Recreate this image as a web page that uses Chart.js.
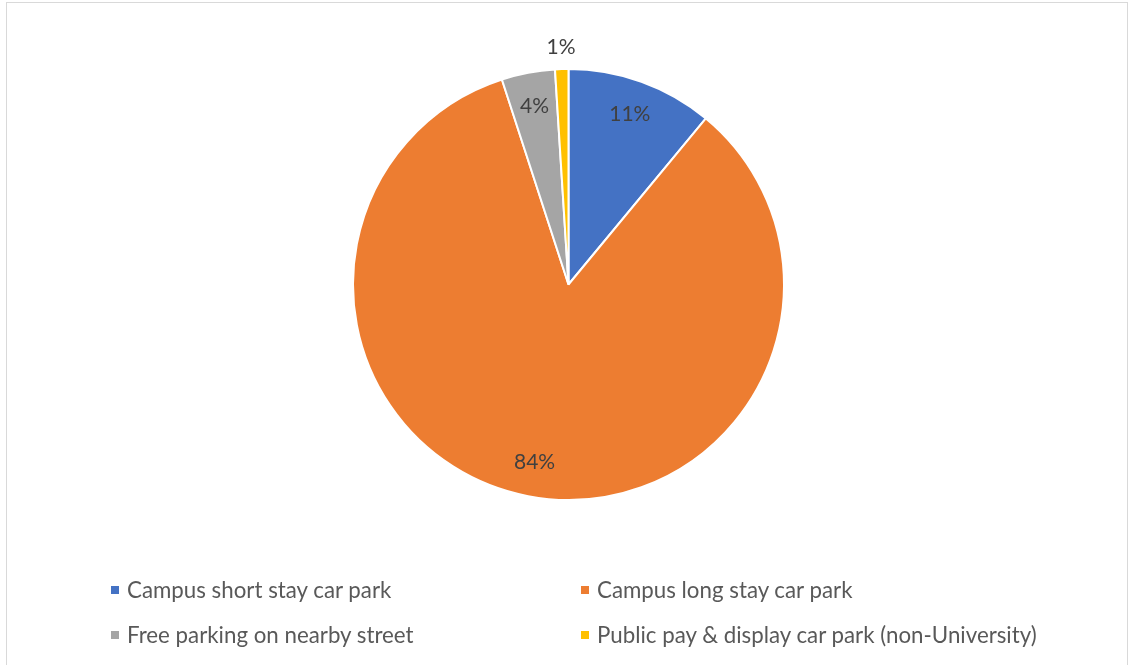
<!DOCTYPE html>
<html>
<head>
<meta charset="utf-8">
<title>Parking</title>
<script src="https://cdn.jsdelivr.net/npm/chart.js@4.4.1/dist/chart.umd.min.js"></script>
<style>
    html, body { margin: 0; padding: 0; background: #fff; }
    #frame {
        position: absolute; left: 6px; top: 2px; width: 1122px; height: 700px;
        border: 1px solid #d9d9d9; box-sizing: border-box;
    }
    #chart { position: absolute; left: 0; top: 0; }
    .legend-item {
        position: absolute; font: 22.3px Lato, sans-serif; color: #595959;
        line-height: 24px; white-space: nowrap;
    }
    .legend-item i {
        position: absolute; left: -16px; top: 8px; width: 8px; height: 8px;
    }
</style>
</head>
<body>
<div id="frame"></div>
<canvas id="chart" width="1129" height="665"></canvas>
<div id="legend"></div>

<script>
"use strict"

const places = [
    "Campus short stay car park",
    "Campus long stay car park",
    "Free parking on nearby street",
    "Public pay & display car park (non-University)"
];
const shares = [11, 84, 4, 1];
const sliceColors = ["#4472C4", "#ED7D31", "#A5A5A5", "#FFC000"];

// percentage labels: inside the slice, or just outside for tiny ones
const pieLabels = {
    id: "pieLabels",
    afterDatasetsDraw(chart) {
        const ctx = chart.ctx;
        const meta = chart.getDatasetMeta(0);
        ctx.save();
        ctx.font = "21px Lato, sans-serif";
        ctx.fillStyle = "#404040";
        ctx.textAlign = "center";
        ctx.textBaseline = "middle";
        meta.data.forEach((arc, i) => {
            const p = arc.getProps(["x", "y", "startAngle", "endAngle", "outerRadius"], true);
            const mid = (p.startAngle + p.endAngle) / 2;
            const r = shares[i] < 2 ? p.outerRadius + 22 : p.outerRadius * 0.84;
            ctx.fillText(shares[i] + "%", p.x + Math.cos(mid) * r, p.y + Math.sin(mid) * r);
        });
        ctx.restore();
    }
};

new Chart(document.getElementById("chart"), {
    type: "pie",
    data: {
        labels: places,
        datasets: [{
            data: shares,
            backgroundColor: sliceColors,
            borderColor: "#ffffff",
            borderWidth: 2,
            hoverOffset: 0
        }]
    },
    options: {
        responsive: false,
        animation: false,
        devicePixelRatio: 1,
        layout: { padding: { top: 68, bottom: 164, left: 352, right: 344 } },
        plugins: {
            legend: { display: false },
            tooltip: { enabled: false }
        }
    },
    plugins: [pieLabels]
});

// two-column legend under the pie
const legendSpots = [[127, 578], [597, 578], [127, 623], [597, 623]];
const legend = document.getElementById("legend");
places.forEach((name, i) => {
    const item = document.createElement("div");
    item.className = "legend-item";
    item.style.left = legendSpots[i][0] + "px";
    item.style.top = legendSpots[i][1] + "px";
    const box = document.createElement("i");
    box.style.background = sliceColors[i];
    item.appendChild(box);
    item.appendChild(document.createTextNode(name));
    legend.appendChild(item);
});
</script>
</body>
</html>
